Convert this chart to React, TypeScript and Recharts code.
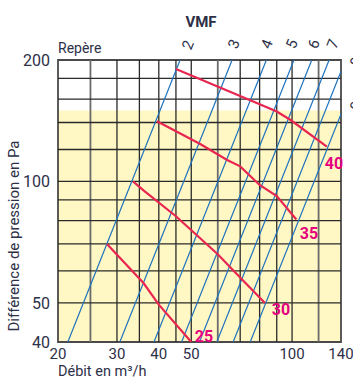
import React from 'react';
import { LineChart, Line, XAxis, YAxis, ReferenceLine, ReferenceArea } from 'recharts';

// axis ticks
const xTicks = [20, 30, 40, 50, 100, 140];
const yTicks = [40, 50, 100, 200];
const xGrid = [25, 30, 35, 40, 45, 50, 60, 70, 80, 90, 100, 120];
const xGridLight = [25, 60, 120];
const yGrid = [50, 60, 70, 80, 90, 100, 120, 140, 160, 180];

// VMF repère lines: débit at 40 Pa and at 200 Pa
const repereIds = ['2', '3', '4', '5', '6', '7', '8', '9'];
const repereQ40 = [21.4, 30.6, 38.7, 46.8, 52.9, 59.6, 66.7, 75.0];
const repereQ200 = [46.3, 66.2, 83.8, 101.3, 114.5, 129, 144.4, 162.4];

// red curves (débit, pression)
const c40Q = [45, 75, 90, 99, 127];
const c40P = [190, 159, 149, 142, 122];
const c35Q = [39.5, 53, 64, 70, 80, 90, 103];
const c35P = [141, 124, 113, 109, 98, 92, 80.5];
const c30Q = [33.5, 36, 45, 60, 67, 83];
const c30P = [100, 95, 82, 66, 60, 50];
const c25Q = [28, 36, 40, 50];
const c25P = [70, 56, 49.5, 40];

const zip = (q: number[], p: number[]) => q.map((v, i) => ({ q: v, p: p[i] }));

const curves = [
  { id: '40', data: zip(c40Q, c40P) },
  { id: '35', data: zip(c35Q, c35P) },
  { id: '30', data: zip(c30Q, c30P) },
  { id: '25', data: zip(c25Q, c25P) },
];

const repereLines = repereIds.map((id, i) => ({
  id,
  data: [
    { q: repereQ40[i], p: 40 },
    { q: repereQ200[i], p: 200 },
  ],
}));

const TEXT = '#2d3047';
const FONT = 'Roboto, sans-serif';

export default function App() {
  return (
    <div style={{ position: 'absolute', left: 0, top: 0, width: 353, height: 381, fontFamily: FONT }}>
      <LineChart width={353} height={381} margin={{ top: 60, right: 12, bottom: 9, left: 8 }}>
        <XAxis
          type="number"
          dataKey="q"
          scale="log"
          domain={[20, 140]}
          ticks={xTicks}
          allowDataOverflow
          axisLine={false}
          tickLine={false}
          tickSize={0}
          tickMargin={6}
          height={30}
          tick={{ fill: TEXT, fontSize: 15, fontFamily: FONT }}
        />
        <YAxis
          type="number"
          dataKey="p"
          scale="log"
          domain={[40, 200]}
          ticks={yTicks}
          allowDataOverflow
          axisLine={false}
          tickLine={false}
          tickSize={0}
          tickMargin={8}
          width={50}
          tick={{ fill: TEXT, fontSize: 16, fontFamily: FONT }}
        />
        <ReferenceArea x1={20} x2={140} y1={40} y2={150} fill="#fff8c4" fillOpacity={1} stroke="none" />
        {xGrid.map((v) => (
          <ReferenceLine
            key={'x' + v}
            x={v}
            stroke={xGridLight.includes(v) ? '#6b6b6b' : '#2a2a2a'}
            strokeWidth={xGridLight.includes(v) ? 1.8 : 1.3}
          />
        ))}
        {yGrid.map((v) => (
          <ReferenceLine key={'y' + v} y={v} stroke="#2a2a2a" strokeWidth={1.3} />
        ))}
        {repereLines.map((l) => (
          <Line
            key={'r' + l.id}
            data={l.data}
            dataKey="p"
            type="linear"
            stroke="#1f72bd"
            strokeWidth={1.2}
            dot={false}
            activeDot={false}
            isAnimationActive={false}
          />
        ))}
        {curves.map((c) => (
          <Line
            key={'c' + c.id}
            data={c.data}
            dataKey="p"
            type="linear"
            stroke="#e8264f"
            strokeWidth={2.2}
            dot={false}
            activeDot={false}
            isAnimationActive={false}
          />
        ))}
        <ReferenceArea x1={20} x2={140} y1={40} y2={200} fill="none" stroke="#4a4a4a" strokeWidth={1.8} />
      </LineChart>
      <svg
        width={353}
        height={381}
        style={{ position: 'absolute', left: 0, top: 0, pointerEvents: 'none', fontFamily: FONT }}
      >
        <text x={201} y={27} textAnchor="middle" fontSize={15} fontWeight={700} fill={TEXT}>VMF</text>
        <text x={58} y={53} fontSize={14} fill={TEXT}>Repère</text>
        {[
          [188, 45],
          [234, 44],
          [267, 44],
          [292, 44],
          [314, 44],
          [333, 44],
          [356, 62],
          [356, 106],
        ].map(([x, y], i) => (
          <text
            key={i}
            x={x}
            y={y}
            fontSize={15}
            fill={TEXT}
            textAnchor="middle"
            dominantBaseline="central"
            transform={`rotate(-68 ${x} ${y})`}
          >
            {repereIds[i]}
          </text>
        ))}
        <text
          x={14}
          y={236}
          fontSize={15}
          fill={TEXT}
          textAnchor="middle"
          dominantBaseline="central"
          transform="rotate(-90 14 236)"
        >
          Différence de pression en Pa
        </text>
        <text x={58} y={376} fontSize={14.5} fill={TEXT}>Débit en m³/h</text>
        {[
          ['40', 334, 163],
          ['35', 309, 233],
          ['30', 281, 309],
          ['25', 204, 336],
        ].map(([t, x, y]) => (
          <text
            key={t as string}
            x={x as number}
            y={y as number}
            fontSize={16}
            fontWeight={700}
            fill="#e5007e"
            textAnchor="middle"
            dominantBaseline="central"
          >
            {t}
          </text>
        ))}
      </svg>
    </div>
  );
}
